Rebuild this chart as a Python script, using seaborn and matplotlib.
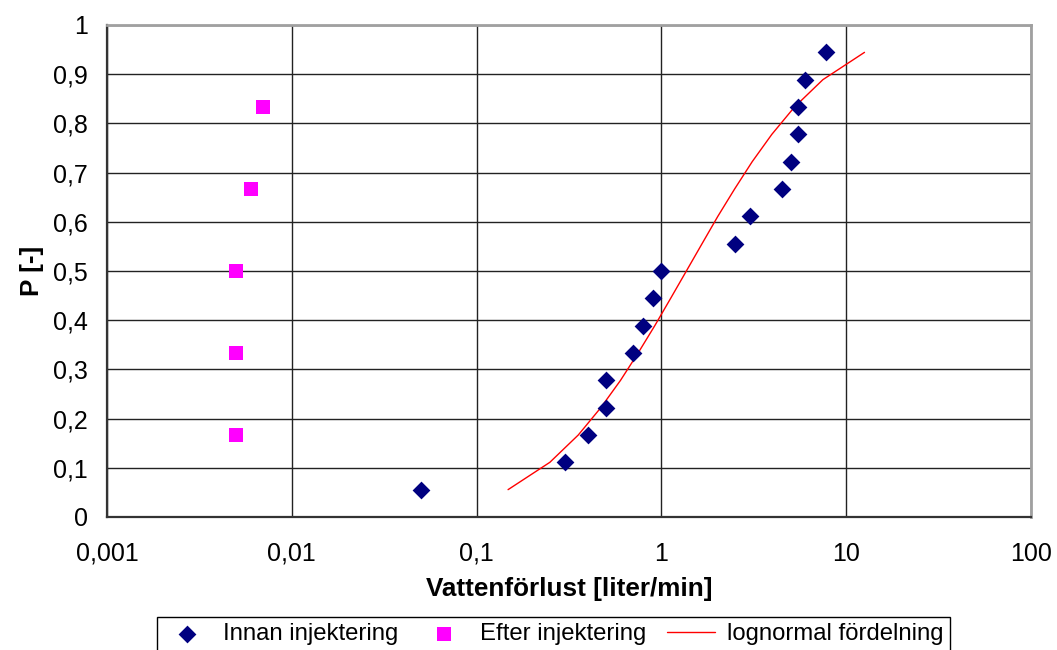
import numpy as np
import pandas as pd
import matplotlib
matplotlib.use("Agg")
import matplotlib.pyplot as plt
import seaborn as sns
from matplotlib.ticker import FixedLocator, LogLocator, NullFormatter

# Measured water loss before grouting (liter/min) and plotting positions
innan_x = [0.05, 0.3, 0.4, 0.5, 0.5, 0.7, 0.8, 0.9, 1.0, 2.5, 3.0, 4.5, 5.0, 5.5, 5.5, 6.0, 7.8]
innan_p = [0.0556, 0.1111, 0.1667, 0.2222, 0.2778, 0.3333, 0.3889, 0.4444, 0.5,
           0.5556, 0.6111, 0.6667, 0.7222, 0.7778, 0.8333, 0.8889, 0.9444]

# Measured water loss after grouting
efter_x = [0.005, 0.005, 0.005, 0.006, 0.007]
efter_p = [0.1667, 0.3333, 0.5, 0.6667, 0.8333]

# Fitted lognormal distribution, evaluated at the same plotting positions
lognorm_x = [0.148, 0.249, 0.355, 0.470, 0.601, 0.748, 0.921, 1.122, 1.365,
             1.66, 2.02, 2.49, 3.10, 3.96, 5.25, 7.48, 12.56]
lognorm_p = innan_p

x_ticks = [0.001, 0.01, 0.1, 1, 10, 100]
x_ticklabels = ["0,001", "0,01", "0,1", "1", "10", "100"]
y_ticks = [0, 0.1, 0.2, 0.3, 0.4, 0.5, 0.6, 0.7, 0.8, 0.9, 1.0]
y_ticklabels = ["0", "0,1", "0,2", "0,3", "0,4", "0,5", "0,6", "0,7", "0,8", "0,9", "1"]

sns.set_style("white")
plt.rcParams["font.family"] = ["Liberation Sans", "DejaVu Sans"]
plt.rcParams["text.color"] = "black"
plt.rcParams["axes.labelcolor"] = "black"
plt.rcParams["xtick.color"] = "black"
plt.rcParams["ytick.color"] = "black"

fig = plt.figure(figsize=(10.57, 6.5), dpi=100)
ax = fig.add_axes([107 / 1057, 1 - 517 / 650, (1031 - 107) / 1057, (517 - 25) / 650])

df_innan = pd.DataFrame({"x": innan_x, "p": innan_p})
df_efter = pd.DataFrame({"x": efter_x, "p": efter_p})
df_line = pd.DataFrame({"x": lognorm_x, "p": lognorm_p})

sns.scatterplot(data=df_innan, x="x", y="p", ax=ax, marker="D", s=82,
                color="#000080", linewidth=0, label="Innan injektering", zorder=4)
sns.scatterplot(data=df_efter, x="x", y="p", ax=ax, marker="s", s=95,
                color="#FF00FF", linewidth=0, label="Efter injektering", zorder=4)
sns.lineplot(data=df_line, x="x", y="p", ax=ax, color="#FF0000", linewidth=1.0,
             sort=False, label="lognormal fördelning", zorder=3)

ax.set_xscale("log")
ax.set_xlim(0.001, 100)
ax.set_ylim(0, 1)

ax.xaxis.set_major_locator(FixedLocator(x_ticks))
ax.set_xticklabels(x_ticklabels)
ax.xaxis.set_minor_locator(LogLocator(base=10, subs=np.arange(2, 10)))
ax.xaxis.set_minor_formatter(NullFormatter())
ax.set_yticks(y_ticks)
ax.set_yticklabels(y_ticklabels)

ax.grid(True, which="major", color="#222222", linewidth=1.0)
ax.set_axisbelow(True)

ax.tick_params(axis="both", which="major", direction="out", length=6,
               width=1.2, color="#333333", labelsize=18)
ax.tick_params(axis="x", which="minor", direction="out", length=4,
               width=1.0, color="#333333")
ax.tick_params(axis="x", which="major", pad=12)
ax.tick_params(axis="y", which="major", pad=8)

for side in ("left", "bottom"):
    ax.spines[side].set_color("#333333")
    ax.spines[side].set_linewidth(1.6)
for side in ("top", "right"):
    ax.spines[side].set_color("#a0a0a0")
    ax.spines[side].set_linewidth(2.0)
    ax.spines[side].set_visible(True)

ax.set_xlabel("Vattenförlust [liter/min]", fontsize=18.8, fontweight="bold", labelpad=8)
ax.set_ylabel("P [-]", fontsize=18.8, fontweight="bold", labelpad=6)

handles, labels = ax.get_legend_handles_labels()
ax.get_legend().remove()
leg = fig.legend(handles, labels, loc="upper center", ncol=3,
                 bbox_to_anchor=((152 + 955) / 2 / 1057, 1 - 617 / 650),
                 frameon=True, fancybox=False, edgecolor="#000000",
                 framealpha=1, fontsize=17.2, handlelength=2.0, handletextpad=0.5,
                 columnspacing=0.9, borderpad=0.25, borderaxespad=0)
leg.get_frame().set_linewidth(1.0)

fig.savefig("out.png", dpi=100)
